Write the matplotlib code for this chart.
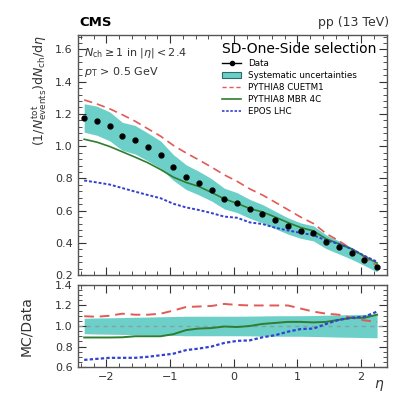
import numpy as np
import matplotlib
matplotlib.use('Agg')
import matplotlib.pyplot as plt
from matplotlib.ticker import MultipleLocator
from matplotlib.lines import Line2D
from matplotlib.patches import Patch

# Pseudorapidity bins
eta = [-2.35, -2.15, -1.95, -1.75, -1.55, -1.35, -1.15, -0.95, -0.75, -0.55, -0.35, -0.15,
       0.05, 0.25, 0.45, 0.65, 0.85, 1.05, 1.25, 1.45, 1.65, 1.85, 2.05, 2.25]

# Data and relative systematic uncertainty
data = [1.175, 1.158, 1.123, 1.061, 1.040, 0.995, 0.947, 0.868, 0.808, 0.771, 0.729, 0.675,
        0.650, 0.611, 0.581, 0.542, 0.505, 0.476, 0.459, 0.407, 0.372, 0.335, 0.293, 0.248]
sys_rel = [0.075, 0.078, 0.080, 0.082, 0.085, 0.087, 0.090, 0.092, 0.095, 0.095, 0.095, 0.095,
           0.095, 0.096, 0.098, 0.100, 0.100, 0.100, 0.102, 0.105, 0.108, 0.110, 0.113, 0.115]

# MC predictions
cuetm1 = [1.287, 1.262, 1.232, 1.195, 1.155, 1.108, 1.062, 1.005, 0.958, 0.915, 0.870, 0.822,
          0.782, 0.735, 0.697, 0.652, 0.606, 0.560, 0.520, 0.458, 0.413, 0.362, 0.310, 0.258]
mbr4c = [1.043, 1.025, 0.998, 0.965, 0.932, 0.897, 0.855, 0.808, 0.775, 0.750, 0.713, 0.673,
         0.645, 0.613, 0.592, 0.560, 0.526, 0.495, 0.474, 0.425, 0.394, 0.362, 0.317, 0.275]
epos = [0.787, 0.775, 0.762, 0.740, 0.718, 0.697, 0.677, 0.643, 0.620, 0.604, 0.585, 0.563,
        0.556, 0.527, 0.517, 0.494, 0.477, 0.462, 0.448, 0.415, 0.394, 0.362, 0.320, 0.283]

# MC / Data ratios
ratio_cuetm1 = [1.095, 1.09, 1.10, 1.12, 1.11, 1.11, 1.12, 1.15, 1.185, 1.19, 1.195, 1.215,
                1.205, 1.20, 1.20, 1.20, 1.20, 1.17, 1.14, 1.12, 1.11, 1.08, 1.055, 1.04]
ratio_mbr4c = [0.888, 0.888, 0.888, 0.89, 0.90, 0.90, 0.90, 0.92, 0.96, 0.975, 0.98, 0.995,
               0.99, 1.0, 1.02, 1.03, 1.04, 1.04, 1.035, 1.04, 1.06, 1.08, 1.08, 1.11]
ratio_epos = [0.67, 0.68, 0.69, 0.69, 0.69, 0.70, 0.715, 0.73, 0.765, 0.78, 0.80, 0.835,
              0.855, 0.86, 0.89, 0.91, 0.945, 0.97, 0.975, 1.02, 1.06, 1.08, 1.09, 1.14]

etaArr = np.array(eta)
dataArr = np.array(data)
relArr = np.array(sys_rel)

bandColor = '#6ccfc8'
redColor = '#e25a55'
greenColor = '#2f7d2f'
blueColor = '#3340d0'
frameColor = '#555555'
textColor = '#333333'

fig = plt.figure(figsize=(3.99, 3.93), dpi=100)
axTop = fig.add_axes([0.195, 0.300, 0.774, 0.611])
axBot = fig.add_axes([0.195, 0.066, 0.774, 0.209])

# Top panel
axTop.fill_between(etaArr, dataArr * (1 - relArr), dataArr * (1 + relArr),
                   color=bandColor, lw=0)
axTop.plot(eta, cuetm1, color=redColor, ls=(0, (5, 3)), lw=1.2)
axTop.plot(eta, mbr4c, color=greenColor, ls='-', lw=1.2)
axTop.plot(eta, epos, color=blueColor, ls=(0, (1.5, 1)), lw=1.4)
axTop.plot(eta, data, 'o', color='black', ms=3.5)

axTop.set_xlim(-2.45, 2.4)
axTop.set_ylim(0.2, 1.69)
axTop.yaxis.set_major_locator(MultipleLocator(0.2))
axTop.yaxis.set_minor_locator(MultipleLocator(0.04))
axTop.set_ylabel(r'$(1/N^{\rm tot}_{\rm events})\mathrm{d}N_{\rm ch}/\mathrm{d}\eta$',
                 fontsize=9, loc='top', color=textColor)
axTop.tick_params(labelbottom=False)

# Legend
legHandles = [Line2D([], [], color='black', marker='o', ms=3, lw=1),
              Patch(facecolor=bandColor, edgecolor='#2a6d6a', lw=0.8),
              Line2D([], [], color=redColor, ls=(0, (3, 2)), lw=1),
              Line2D([], [], color=greenColor, lw=1.2),
              Line2D([], [], color=blueColor, ls=(0, (1.5, 1)), lw=1.2)]
legLabels = ['Data', 'Systematic uncertainties', 'PYTHIA8 CUETM1', 'PYTHIA8 MBR 4C', 'EPOS LHC']
leg = axTop.legend(legHandles, legLabels, loc='upper right', bbox_to_anchor=(0.99, 1.0),
                   frameon=False, fontsize=6.3, title='SD-One-Side selection',
                   title_fontsize=10, handlelength=2.2, labelspacing=0.35,
                   borderpad=0.3, alignment='left')

axTop.text(0.02, 0.955, r'$N_{\rm ch}\geq 1$ in $|\eta| < 2.4$', transform=axTop.transAxes,
           fontsize=8, va='top', color=textColor)
axTop.text(0.02, 0.875, r'$p_{\rm T}$ > 0.5 GeV', transform=axTop.transAxes,
           fontsize=8, va='top', color=textColor)

fig.text(0.2, 0.925, 'CMS', fontsize=9.5, fontweight='bold', ha='left', va='bottom')
fig.text(0.975, 0.925, 'pp (13 TeV)', fontsize=9, ha='right', va='bottom', color=textColor)

# Bottom panel
axBot.fill_between(etaArr, 1 - relArr, 1 + relArr, color=bandColor, lw=0)
axBot.axhline(1.0, color='#8aa0a0', ls=(0, (3, 3)), lw=1)
axBot.plot(eta, ratio_cuetm1, color=redColor, ls=(0, (5, 3)), lw=1.4)
axBot.plot(eta, ratio_mbr4c, color=greenColor, ls='-', lw=1.4)
axBot.plot(eta, ratio_epos, color=blueColor, ls=(0, (1.5, 1)), lw=1.6)

axBot.set_xlim(-2.45, 2.4)
axBot.set_ylim(0.6, 1.4)
axBot.yaxis.set_minor_locator(MultipleLocator(0.05))
axBot.set_yticks([0.6, 0.8, 1.0, 1.2, 1.4])
axBot.set_yticklabels(['0.6', '0.8', '1.0', '1.2', '1.4'])
axBot.set_ylabel('MC/Data', fontsize=10, color=textColor)
axBot.yaxis.set_label_coords(-0.145, 0.5)
fig.text(0.95, 0.0, r'$\eta$', fontsize=10, ha='center', va='bottom', color=textColor)

for ax in [axTop, axBot]:
    ax.xaxis.set_major_locator(MultipleLocator(1))
    ax.xaxis.set_minor_locator(MultipleLocator(0.2))
    ax.tick_params(which='both', direction='in', top=True, right=True,
                   labelsize=8, colors=textColor)
    ax.tick_params(which='major', length=6)
    ax.tick_params(which='minor', length=3)
    for spine in ax.spines.values():
        spine.set_color(frameColor)
        spine.set_linewidth(1.0)

fig.savefig('out.png', dpi=100)
